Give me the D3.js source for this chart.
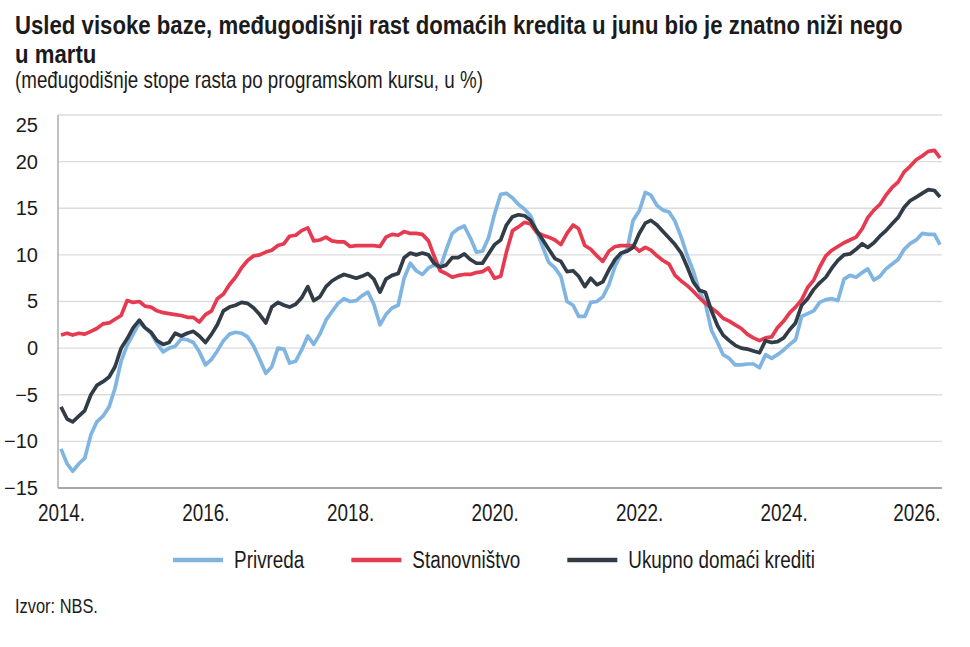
<!DOCTYPE html>
<html>
<head>
<meta charset="utf-8">
<script src="https://cdn.jsdelivr.net/npm/d3@7"></script>
<style>
body{margin:0;background:#fff}
svg text{font-family:"Liberation Sans",Arial,sans-serif;fill:#1b1b1b}
</style>
</head>
<body>
<svg id="chart" width="970" height="647"></svg>
<script>
// monthly y-o-y growth rates, Jan 2014 .. Mar 2026
const firstMonth = "2014-01-01"
const lastMonth = "2026-03-01"

const privreda = [
	-10.8,-12.4,-13.2,-12.4,-11.8,-9.3,-7.9,-7.3,-6.3,-4.3,
	-1.4,0.3,1.5,2.7,2.2,1.6,0.5,-0.4,0.0,0.2,
	1.0,0.9,0.6,-0.4,-1.8,-1.2,-0.3,0.8,1.5,1.7,
	1.6,1.2,0.2,-1.2,-2.7,-2.0,0.0,-0.1,-1.6,-1.4,
	-0.2,1.3,0.4,1.5,3.0,3.9,4.8,5.3,5.0,5.1,
	5.6,6.0,4.7,2.5,3.6,4.3,4.6,7.5,9.1,8.3,
	7.9,8.6,8.9,8.6,10.5,12.3,12.8,13.1,11.8,10.3,
	10.4,11.8,14.4,16.5,16.6,16.1,15.4,14.9,14.2,12.5,
	10.8,9.2,8.6,7.7,5.0,4.6,3.4,3.4,4.9,5.0,
	5.5,6.8,8.8,10.0,10.6,13.7,14.7,16.7,16.4,15.3,
	14.8,14.6,13.6,11.9,9.9,8.3,6.1,4.8,1.9,0.6,
	-0.7,-1.1,-1.8,-1.8,-1.7,-1.7,-2.1,-0.7,-1.1,-0.7,
	-0.2,0.4,0.9,3.4,3.7,4.0,4.9,5.2,5.3,5.1,
	7.4,7.8,7.6,8.1,8.5,7.3,7.7,8.5,9.0,9.5,
	10.6,11.2,11.6,12.3,12.2,12.2,11.1
]
const stanovnistvo = [
	1.4,1.6,1.4,1.6,1.5,1.8,2.1,2.6,2.7,3.1,
	3.5,5.1,4.9,5.0,4.5,4.4,4.0,3.8,3.7,3.6,
	3.5,3.3,3.3,2.8,3.6,4.0,5.3,5.8,6.8,7.6,
	8.6,9.4,9.9,10.0,10.3,10.5,11.0,11.2,12.0,12.1,
	12.6,12.9,11.5,11.6,11.9,11.5,11.4,11.4,10.9,11.0,
	11.0,11.0,11.0,10.9,11.9,12.2,12.1,12.5,12.3,12.3,
	12.2,11.5,9.9,8.3,8.0,7.6,7.8,7.9,7.9,8.1,
	8.2,8.6,7.5,7.7,10.3,12.6,13.0,13.5,13.3,12.4,
	12.1,11.9,11.6,11.1,12.3,13.2,12.8,11.0,10.6,9.9,
	9.3,10.4,10.9,11.0,11.0,11.0,10.4,10.8,10.5,9.9,
	9.4,9.0,7.8,7.2,6.7,6.1,5.4,4.8,4.3,3.8,
	3.2,2.9,2.5,2.1,1.5,1.1,0.8,1.1,1.2,2.2,
	2.9,3.8,4.4,5.2,6.5,7.3,8.7,9.9,10.5,10.9,
	11.3,11.6,11.9,12.8,14.0,14.8,15.4,16.4,17.2,17.8,
	18.9,19.5,20.2,20.6,21.1,21.2,20.4
]
const ukupno = [
	-6.3,-7.6,-7.9,-7.3,-6.7,-5.0,-4.0,-3.6,-3.1,-2.0,
	0.0,1.0,2.2,3.0,2.2,1.7,0.8,0.4,0.6,1.6,
	1.3,1.6,1.8,1.3,0.6,1.5,2.5,4.0,4.4,4.6,
	4.9,4.8,4.3,3.6,2.7,4.4,4.9,4.6,4.4,4.7,
	5.4,6.6,5.1,5.5,6.6,7.2,7.6,7.9,7.7,7.5,
	7.7,8.0,7.4,6.0,7.4,7.8,8.0,9.7,10.2,10.0,
	10.2,10.0,9.1,8.7,8.9,9.7,9.7,10.1,9.5,9.1,
	9.1,10.1,11.1,11.6,13.2,14.1,14.3,14.2,13.7,12.6,
	11.6,10.6,9.6,9.3,8.2,8.3,7.7,6.6,7.5,6.8,
	7.1,8.4,9.5,10.2,10.4,10.8,12.3,13.4,13.7,13.2,
	12.5,11.8,11.1,10.2,8.7,7.1,6.2,6.0,4.0,2.4,
	1.4,0.8,0.3,0.0,-0.1,-0.3,-0.5,0.8,0.6,0.7,
	1.1,2.0,2.7,4.6,5.3,6.3,7.0,7.6,8.6,9.4,
	10.0,10.1,10.6,11.2,10.8,11.3,12.0,12.6,13.3,14.0,
	15.1,15.8,16.2,16.6,17.0,16.9,16.2
]

const seriesNames = ['Privreda','Stanovništvo','Ukupno domaći krediti']
const seriesColors = ['#80b5e2','#e63a50','#313c47']
const yTicks = [-15,-10,-5,0,5,10,15,20,25]
const yearTicks = [2014,2016,2018,2020,2022,2024,2026]

const titleLines = ['Usled visoke baze, međugodišnji rast domaćih kredita u junu bio je znatno niži nego','u martu']
const subtitle = '(međugodišnje stope rasta po programskom kursu, u %)'
const source = 'Izvor: NBS.'

const width = 970
const height = 647
const margin = {left:58, right:28, top:115, bottom:159}
const narrowFactor = 0.82   // no Arial Narrow installed, squeeze Liberation Sans instead

function narrow(selection){
	selection.each(function(){
		let w = this.getComputedTextLength()
		d3.select(this)
			.attr('textLength',w*narrowFactor)
			.attr('lengthAdjust','spacingAndGlyphs')
	})
}

const svg = d3.select('#chart')
const months = d3.timeMonth.range(new Date(firstMonth+'T00:00'), d3.timeMonth.offset(new Date(lastMonth+'T00:00'),1))

const xScale = d3.scaleTime()
	.domain([months[0], months[months.length-1]])
	.range([margin.left+3, width-margin.right-2])
const yScale = d3.scaleLinear()
	.domain([-15,25])
	.range([height-margin.bottom, margin.top])

// titles
const titleG = svg.append('g')
titleLines.forEach(function(t,i){
	titleG.append('text')
		.attr('x',0)
		.attr('y',34+i*29)
		.style('font-size','25px')
		.style('font-weight','bold')
		.text(t)
})
let natural = titleG.select('text').node().getComputedTextLength()
titleG.attr('transform','translate(15,0) scale('+(888/natural)+',1)')

const subG = svg.append('g')
const sub = subG.append('text')
	.attr('x',0)
	.attr('y',88)
	.style('font-size','23px')
	.text(subtitle)
subG.attr('transform','translate(15,0) scale('+(468/sub.node().getComputedTextLength())+',1)')

// grid
svg.append('g')
	.selectAll('line')
	.data(yTicks)
	.join('line')
	.attr('x1',margin.left)
	.attr('x2',width-margin.right)
	.attr('y1',d => yScale(d))
	.attr('y2',d => yScale(d))
	.attr('stroke',d => d === -15 ? '#8a8a8a' : '#dcdcdc')
	.attr('stroke-width',d => d === -15 ? 1.6 : 1.4)

svg.append('line')
	.attr('x1',margin.left).attr('x2',margin.left)
	.attr('y1',yScale(25)).attr('y2',yScale(-15))
	.attr('stroke','#a0a0a0')
	.attr('stroke-width',1.3)

// axes
const yAxis = svg.append('g')
	.attr('transform','translate('+margin.left+',0)')
	.call(d3.axisLeft(yScale).tickValues(yTicks).tickSize(0).tickPadding(20))
yAxis.select('.domain').remove()
yAxis.selectAll('text')
	.style('font-family','"Liberation Sans",Arial,sans-serif')
	.style('font-size','20px')
	.attr('fill','#1b1b1b')
	.attr('dy',d => d === 25 ? '0.8em' : '0.32em')

const xAxis = svg.append('g')
	.attr('transform','translate(0,'+yScale(-15)+')')
	.call(d3.axisBottom(xScale)
		.tickValues(yearTicks.map(y => new Date(y,0,1)))
		.tickFormat(d3.timeFormat('%Y.'))
		.tickSize(0)
		.tickPadding(17))
xAxis.select('.domain').remove()
xAxis.selectAll('text')
	.style('font-family','"Liberation Sans",Arial,sans-serif')
	.style('font-size','23px')
	.attr('fill','#1b1b1b')
	.call(narrow)
let lastTick = xAxis.selectAll('.tick').filter((d,i,n) => i === n.length-1)
lastTick.select('text')
	.attr('text-anchor','end')
	.attr('x',xScale.range()[1]-xScale(new Date(yearTicks[yearTicks.length-1],0,1)))

// lines
const lineGenerator = d3.line()
	.x((d,i) => xScale(months[i]))
	.y(d => yScale(d))
;[privreda,stanovnistvo,ukupno].forEach(function(data,i){
	svg.append('path')
		.datum(data)
		.attr('fill','none')
		.attr('stroke',seriesColors[i])
		.attr('stroke-width',3.7)
		.attr('stroke-linejoin','round')
		.attr('d',lineGenerator)
})

// legend
const legend = svg.append('g')
let lx = 0
seriesNames.forEach(function(name,i){
	const item = legend.append('g').attr('transform','translate('+lx+',0)')
	item.append('line')
		.attr('x1',0).attr('x2',50)
		.attr('y1',0).attr('y2',0)
		.attr('stroke',seriesColors[i])
		.attr('stroke-width',4.5)
	const t = item.append('text')
		.attr('x',61)
		.attr('y',8)
		.style('font-size','23px')
		.text(name)
		.call(narrow)
	lx += 61 + (+t.attr('textLength')) + 47
})
const legendWidth = lx - 47
legend.attr('transform','translate('+(494-legendWidth/2)+',560)')

svg.append('text')
	.attr('x',15)
	.attr('y',613)
	.style('font-size','20px')
	.text(source)
	.call(narrow)
</script>
</body>
</html>
